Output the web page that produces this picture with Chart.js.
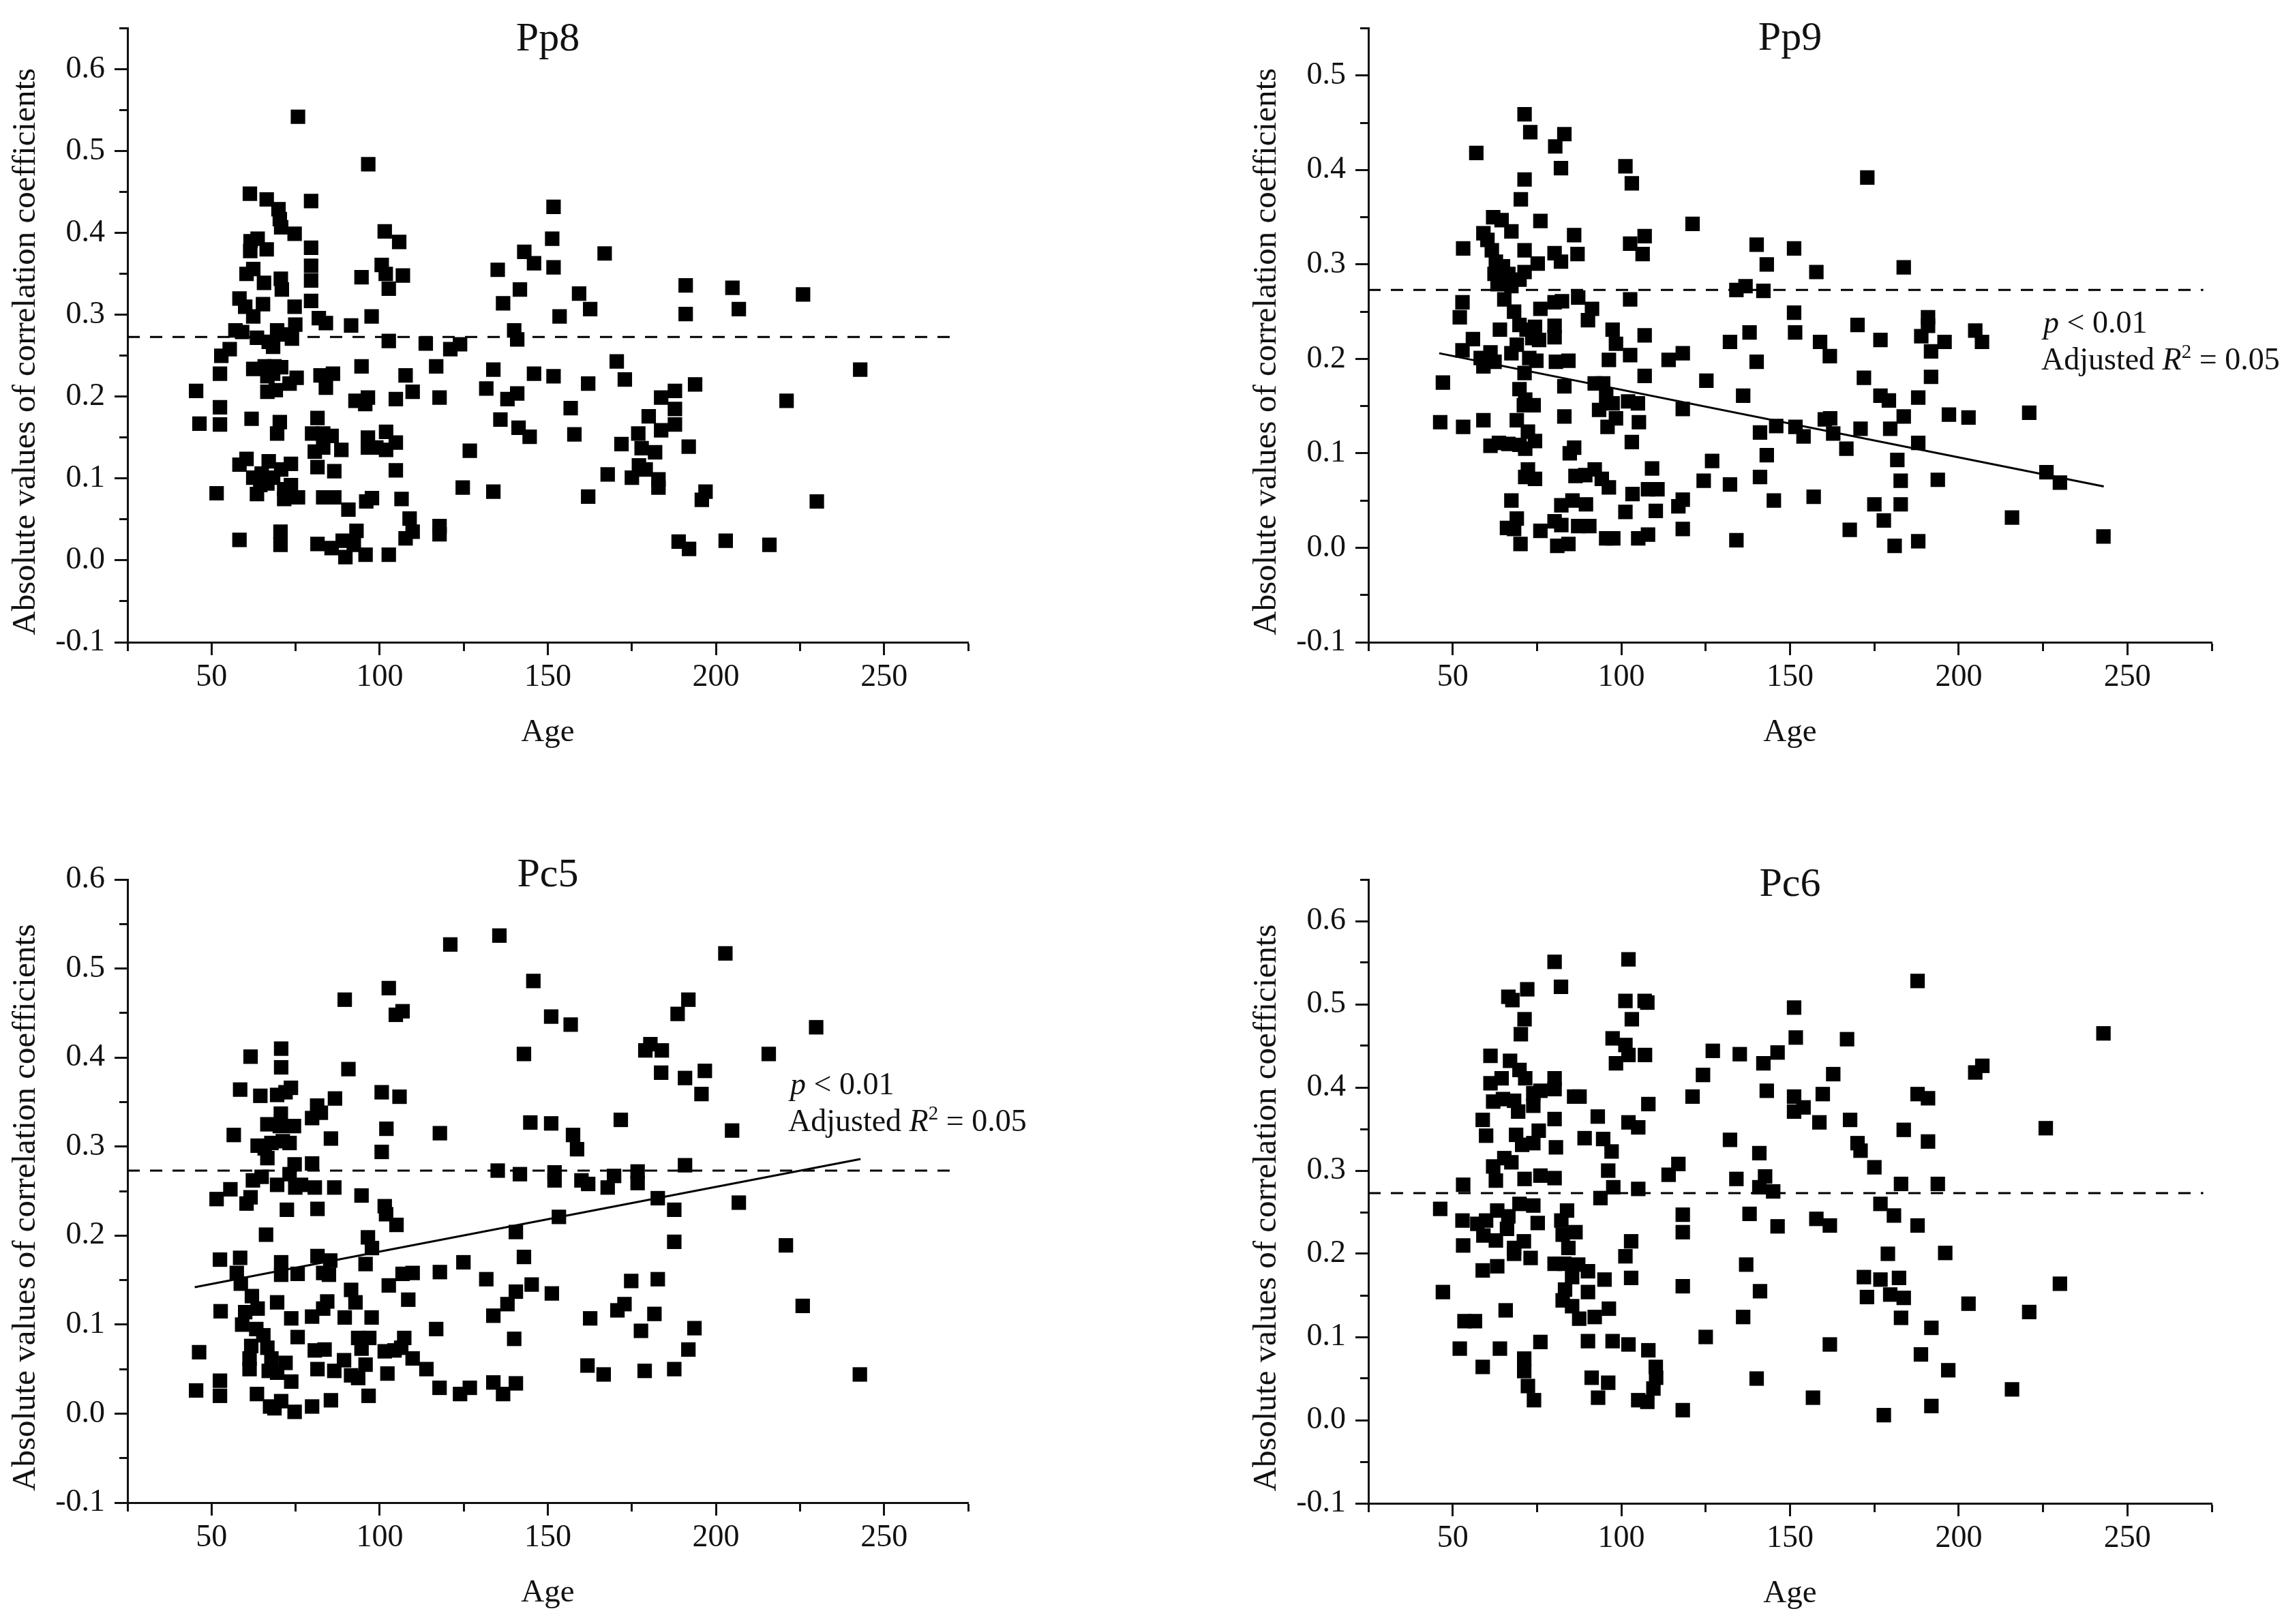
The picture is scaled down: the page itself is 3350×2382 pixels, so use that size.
<!DOCTYPE html>
<html>
<head>
<meta charset="utf-8">
<script src="https://cdn.jsdelivr.net/npm/chart.js@4.4.1/dist/chart.umd.min.js"></script>
<style>
  html, body { margin: 0; padding: 0; background: #fff; }
  #page { position: relative; width: 3350px; height: 2382px; background: #fff; overflow: hidden; }
  #page canvas { position: absolute; }
</style>
</head>
<body>
<div id="page">
  <canvas id="c-pp8" width="1675" height="1191" style="left:0;top:0"></canvas>
  <canvas id="c-pp9" width="1675" height="1191" style="left:1675px;top:0"></canvas>
  <canvas id="c-pc5" width="1675" height="1191" style="left:0;top:1191px"></canvas>
  <canvas id="c-pc6" width="1675" height="1191" style="left:1675px;top:1191px"></canvas>
</div>
<script>
// ---- data: [age, |r|] ----
const pp8Points = [
  [75.7,0.542],[96.6,0.484],[61.4,0.448],[66.4,0.441],[69.9,0.429],[70.3,0.417],[70.7,0.407],[74.7,0.399],
  [79.6,0.439],[61.6,0.390],[63.7,0.393],[61.5,0.378],[66.4,0.380],[79.6,0.382],[101.5,0.402],[105.8,0.389],
  [60.4,0.350],[62.4,0.356],[65.6,0.339],[70.6,0.344],[70.9,0.331],[79.6,0.360],[79.6,0.342],[79.6,0.317],
  [94.6,0.346],[100.6,0.361],[101.8,0.350],[102.7,0.332],[106.9,0.348],[58.3,0.320],[60.0,0.310],[62.4,0.298],
  [65.3,0.313],[74.7,0.310],[81.9,0.296],[84.0,0.290],[91.5,0.287],[97.6,0.298],[57.1,0.281],[59.1,0.279],
  [63.5,0.272],[67.0,0.267],[69.5,0.281],[71.2,0.276],[73.9,0.271],[74.9,0.288],[68.3,0.261],[102.7,0.268],
  [113.7,0.265],[121.0,0.258],[123.9,0.264],[52.9,0.250],[55.4,0.258],[52.5,0.228],[62.4,0.234],[65.8,0.237],
  [68.7,0.237],[70.7,0.236],[66.6,0.225],[68.3,0.228],[75.3,0.223],[73.2,0.216],[82.4,0.226],[86.1,0.228],
  [84.0,0.211],[66.6,0.206],[69.1,0.208],[45.4,0.207],[94.6,0.237],[107.7,0.226],[116.8,0.237],[109.8,0.206],
  [104.8,0.197],[92.8,0.195],[95.7,0.191],[96.5,0.199],[117.8,0.199],[133.8,0.233],[131.7,0.210],[138.0,0.197],
  [140.9,0.204],[135.9,0.172],[141.3,0.162],[144.6,0.151],[145.9,0.228],[151.7,0.225],[151.7,0.432],[151.3,0.393],
  [151.7,0.358],[153.5,0.298],[143.0,0.377],[145.9,0.363],[135.1,0.355],[141.7,0.331],[136.7,0.314],[140.0,0.281],
  [140.9,0.270],[52.5,0.187],[52.5,0.166],[46.4,0.167],[61.9,0.173],[70.3,0.169],[69.5,0.155],[81.5,0.174],
  [79.9,0.155],[83.2,0.155],[85.7,0.152],[80.7,0.133],[83.2,0.138],[88.6,0.135],[96.5,0.150],[96.5,0.138],
  [99.0,0.138],[101.9,0.157],[101.9,0.135],[104.8,0.144],[126.8,0.134],[58.3,0.117],[60.4,0.124],[62.4,0.101],
  [64.9,0.106],[67.0,0.121],[68.3,0.101],[70.7,0.111],[73.6,0.118],[66.6,0.094],[64.5,0.092],[81.5,0.114],
  [86.5,0.109],[104.8,0.110],[51.5,0.082],[63.5,0.081],[71.6,0.087],[71.6,0.075],[75.7,0.077],[73.6,0.092],
  [83.2,0.077],[86.5,0.077],[90.7,0.062],[96.0,0.072],[97.7,0.076],[106.5,0.075],[124.7,0.089],[133.8,0.084],
  [58.3,0.025],[70.5,0.035],[70.5,0.019],[81.5,0.020],[85.7,0.015],[89.0,0.024],[89.8,0.004],[92.3,0.019],
  [93.1,0.036],[95.8,0.007],[102.7,0.007],[108.9,0.051],[109.8,0.035],[107.7,0.027],[117.8,0.042],[117.8,0.032],
  [166.9,0.375],[159.3,0.326],[162.6,0.307],[191.0,0.336],[191.0,0.301],[204.9,0.333],[206.8,0.307],[225.9,0.325],
  [170.5,0.243],[172.9,0.221],[162.0,0.216],[156.8,0.186],[157.9,0.154],[242.9,0.233],[221.0,0.195],[193.8,0.215],
  [183.7,0.199],[187.8,0.207],[187.8,0.185],[180.0,0.176],[187.8,0.166],[183.7,0.159],[176.9,0.155],[171.9,0.142],
  [177.9,0.137],[181.9,0.132],[191.9,0.139],[177.1,0.116],[179.1,0.111],[175.0,0.101],[182.9,0.099],[182.9,0.089],
  [167.8,0.105],[162.0,0.078],[196.9,0.084],[195.8,0.074],[230.0,0.072],[188.9,0.023],[192.0,0.014],[202.9,0.024],
  [215.9,0.019]
];

const pp9Points = [
  [71.3,0.459],[73.0,0.440],[57.0,0.418],[80.4,0.425],[83.1,0.438],[82.1,0.402],[71.3,0.390],[70.2,0.369],
  [101.2,0.404],[103.1,0.386],[76.0,0.346],[62.0,0.350],[64.5,0.347],[59.1,0.333],[67.4,0.335],[86.0,0.331],
  [121.1,0.343],[53.1,0.317],[60.3,0.326],[61.6,0.315],[62.8,0.303],[64.9,0.298],[62.4,0.290],[66.5,0.290],
  [71.3,0.315],[71.3,0.292],[69.8,0.284],[75.2,0.301],[80.2,0.312],[82.1,0.303],[87.0,0.311],[102.6,0.322],
  [106.9,0.330],[106.3,0.311],[63.3,0.279],[67.4,0.277],[52.9,0.260],[52.1,0.244],[65.3,0.263],[68.2,0.250],
  [76.0,0.253],[80.2,0.260],[82.4,0.261],[87.2,0.265],[91.3,0.253],[90.1,0.241],[102.6,0.263],[134.1,0.273],
  [136.8,0.277],[142.1,0.272],[140.1,0.321],[143.1,0.300],[151.2,0.317],[151.2,0.249],[151.5,0.228],[56.0,0.221],
  [52.9,0.209],[64.0,0.231],[69.8,0.236],[71.9,0.231],[74.4,0.234],[75.6,0.220],[73.6,0.222],[80.2,0.235],
  [80.2,0.223],[97.4,0.231],[98.4,0.216],[106.9,0.225],[132.2,0.218],[138.0,0.228],[58.3,0.201],[59.1,0.192],
  [61.2,0.207],[62.4,0.197],[67.4,0.206],[69.0,0.215],[72.7,0.201],[74.8,0.198],[80.6,0.197],[84.3,0.198],
  [96.3,0.199],[102.6,0.204],[114.0,0.199],[118.2,0.206],[140.1,0.197],[47.1,0.175],[71.3,0.185],[106.9,0.182],
  [83.1,0.171],[69.8,0.168],[71.5,0.157],[74.0,0.151],[71.1,0.151],[92.1,0.174],[94.6,0.174],[95.5,0.161],
  [97.4,0.153],[102.0,0.155],[104.9,0.153],[125.2,0.177],[136.1,0.161],[118.2,0.147],[93.4,0.146],[46.3,0.133],
  [53.1,0.128],[59.1,0.135],[69.0,0.135],[72.3,0.123],[83.1,0.139],[98.4,0.137],[95.9,0.128],[105.2,0.133],
  [145.9,0.129],[151.6,0.128],[154.0,0.118],[141.1,0.122],[61.2,0.108],[63.7,0.111],[66.5,0.110],[69.8,0.109],
  [71.5,0.105],[74.4,0.113],[86.0,0.106],[84.7,0.100],[103.1,0.112],[143.1,0.098],[72.3,0.083],[71.5,0.075],
  [74.4,0.073],[86.4,0.076],[89.3,0.077],[92.1,0.083],[94.2,0.073],[96.3,0.064],[109.1,0.084],[107.9,0.062],
  [110.7,0.062],[126.9,0.092],[124.4,0.071],[132.2,0.067],[141.1,0.075],[103.3,0.057],[67.4,0.050],[82.2,0.045],
  [85.5,0.050],[89.5,0.046],[101.2,0.038],[110.2,0.039],[116.9,0.044],[118.2,0.051],[145.2,0.050],[69.0,0.031],
  [66.1,0.021],[68.2,0.020],[76.0,0.018],[80.2,0.028],[82.2,0.024],[87.2,0.023],[90.5,0.023],[95.5,0.010],
  [97.6,0.010],[105.0,0.010],[107.9,0.014],[118.2,0.020],[70.1,0.004],[81.0,0.002],[84.3,0.004],[134.1,0.008],
  [172.9,0.392],[157.8,0.292],[183.7,0.297],[170.0,0.236],[158.9,0.218],[161.8,0.203],[176.8,0.220],[190.9,0.244],
  [190.9,0.235],[188.9,0.224],[191.8,0.208],[195.8,0.218],[204.9,0.230],[206.9,0.218],[171.9,0.180],[191.8,0.181],
  [176.8,0.161],[179.3,0.156],[188.0,0.159],[160.3,0.136],[161.9,0.137],[197.1,0.141],[202.9,0.138],[220.9,0.143],
  [183.7,0.139],[162.8,0.121],[170.9,0.126],[179.7,0.126],[166.7,0.105],[188.0,0.111],[181.8,0.093],[182.8,0.071],
  [193.8,0.072],[226.0,0.080],[230.0,0.069],[157.0,0.054],[175.0,0.046],[182.8,0.046],[177.8,0.029],[167.7,0.019],
  [181.0,0.002],[188.0,0.007],[215.8,0.032],[242.9,0.012]
];

const pc5Points = [
  [121.0,0.527],[135.6,0.537],[145.7,0.486],[151.0,0.446],[102.7,0.478],[104.8,0.448],[106.8,0.452],[89.6,0.465],
  [70.7,0.410],[61.6,0.401],[70.7,0.389],[90.7,0.387],[142.9,0.404],[58.5,0.364],[64.5,0.357],[69.5,0.358],
  [72.0,0.361],[73.6,0.366],[86.7,0.354],[100.6,0.361],[105.9,0.356],[81.4,0.346],[79.9,0.332],[82.5,0.338],
  [70.6,0.337],[66.6,0.325],[70.3,0.323],[74.5,0.323],[56.6,0.313],[85.5,0.309],[102.0,0.320],[117.9,0.315],
  [144.8,0.327],[151.0,0.326],[63.7,0.301],[65.8,0.298],[67.8,0.304],[71.2,0.306],[73.2,0.304],[66.6,0.287],
  [100.6,0.294],[74.7,0.280],[79.9,0.281],[135.1,0.273],[141.7,0.269],[152.0,0.271],[152.0,0.262],[62.3,0.262],
  [64.9,0.266],[69.5,0.257],[73.2,0.269],[74.9,0.254],[80.7,0.254],[76.6,0.257],[51.5,0.241],[55.6,0.252],
  [60.4,0.236],[61.6,0.243],[72.4,0.229],[81.5,0.230],[86.5,0.254],[94.6,0.245],[101.5,0.233],[101.9,0.224],
  [105.0,0.212],[66.2,0.201],[140.5,0.204],[153.3,0.221],[96.5,0.198],[97.7,0.186],[95.8,0.168],[52.5,0.173],
  [58.5,0.175],[70.7,0.170],[81.5,0.177],[85.3,0.172],[83.2,0.158],[70.7,0.156],[75.6,0.157],[84.9,0.156],
  [142.9,0.176],[124.9,0.170],[117.9,0.159],[131.7,0.151],[145.2,0.145],[151.2,0.135],[57.5,0.158],[58.7,0.146],
  [102.7,0.144],[106.8,0.157],[109.8,0.158],[108.5,0.128],[140.5,0.137],[138.0,0.123],[133.8,0.110],[140.0,0.084],
  [62.0,0.132],[63.7,0.118],[60.0,0.114],[52.7,0.115],[69.5,0.125],[59.1,0.100],[63.3,0.095],[65.4,0.088],
  [61.8,0.076],[66.6,0.074],[61.3,0.062],[61.3,0.050],[67.8,0.062],[67.0,0.048],[69.5,0.046],[72.0,0.057],
  [73.7,0.107],[75.6,0.086],[73.7,0.036],[79.9,0.109],[83.2,0.118],[84.4,0.126],[89.6,0.108],[91.5,0.139],
  [92.8,0.125],[97.6,0.108],[80.7,0.071],[83.6,0.072],[81.5,0.050],[86.5,0.048],[89.4,0.060],[91.5,0.043],
  [93.6,0.040],[93.6,0.085],[94.6,0.073],[96.9,0.085],[95.8,0.055],[101.5,0.070],[102.3,0.045],[104.4,0.071],
  [107.3,0.085],[106.4,0.074],[109.8,0.062],[113.9,0.050],[116.8,0.095],[117.8,0.029],[123.9,0.022],[126.8,0.029],
  [133.8,0.035],[136.7,0.022],[140.5,0.034],[46.3,0.069],[45.4,0.026],[52.5,0.037],[52.5,0.020],[63.5,0.022],
  [67.4,0.008],[68.7,0.006],[70.7,0.014],[74.7,0.002],[79.9,0.008],[85.5,0.015],[96.7,0.020],
  [202.8,0.517],[191.8,0.465],[188.6,0.449],[156.8,0.437],[229.8,0.434],[180.5,0.415],[183.9,0.408],[179.0,0.408],
  [215.7,0.404],[183.7,0.383],[190.8,0.377],[196.7,0.385],[195.7,0.359],[171.7,0.330],[157.5,0.313],[158.7,0.297],
  [204.8,0.318],[190.8,0.279],[160.0,0.262],[162.0,0.258],[167.8,0.254],[169.7,0.267],[176.7,0.272],[176.7,0.259],
  [182.7,0.242],[187.6,0.229],[206.8,0.237],[187.6,0.193],[220.8,0.189],[174.8,0.149],[182.7,0.151],[172.8,0.123],
  [170.7,0.116],[162.6,0.107],[181.7,0.112],[177.7,0.093],[193.6,0.096],[191.8,0.072],[225.8,0.121],[161.8,0.054],
  [166.6,0.044],[178.8,0.048],[187.6,0.050],[242.8,0.044]
];

const pc6Points = [
  [80.2,0.551],[102.1,0.554],[72.1,0.518],[82.1,0.521],[66.5,0.509],[67.7,0.505],[71.3,0.482],[70.2,0.464],
  [101.2,0.504],[106.9,0.504],[107.7,0.502],[103.1,0.482],[97.4,0.459],[101.2,0.451],[102.1,0.439],[98.4,0.429],
  [107.0,0.439],[61.2,0.438],[67.0,0.432],[69.8,0.421],[61.2,0.405],[64.5,0.411],[71.5,0.411],[73.9,0.393],
  [80.2,0.411],[80.2,0.398],[86.0,0.389],[87.6,0.389],[76.0,0.396],[62.0,0.383],[64.9,0.386],[68.2,0.384],
  [69.4,0.371],[73.9,0.378],[108.0,0.380],[127.1,0.444],[124.2,0.415],[121.1,0.389],[135.1,0.440],[142.1,0.429],
  [146.3,0.442],[151.2,0.496],[151.7,0.460],[143.1,0.396],[151.2,0.389],[151.2,0.371],[154.0,0.376],[58.9,0.361],
  [59.9,0.342],[68.8,0.343],[70.6,0.331],[73.9,0.333],[75.5,0.348],[80.2,0.362],[80.6,0.328],[93.0,0.365],
  [89.1,0.339],[94.6,0.338],[97.1,0.323],[102.1,0.358],[105.0,0.352],[132.2,0.337],[140.9,0.321],[62.0,0.305],
  [62.8,0.288],[65.3,0.315],[67.4,0.310],[71.3,0.290],[76.0,0.294],[80.2,0.291],[96.1,0.300],[114.0,0.295],
  [116.9,0.308],[134.1,0.290],[142.6,0.293],[140.9,0.280],[145.0,0.275],[53.1,0.283],[97.6,0.280],[105.0,0.278],
  [93.8,0.267],[46.3,0.254],[52.9,0.240],[57.3,0.236],[59.9,0.240],[63.2,0.252],[66.5,0.245],[69.8,0.260],
  [73.9,0.258],[75.2,0.237],[59.1,0.222],[62.8,0.216],[66.1,0.230],[68.2,0.207],[71.1,0.215],[73.1,0.195],
  [83.9,0.252],[82.2,0.240],[82.6,0.223],[86.4,0.226],[84.3,0.207],[118.2,0.247],[118.2,0.226],[138.0,0.248],
  [146.3,0.233],[53.1,0.210],[102.9,0.215],[101.2,0.197],[58.9,0.180],[63.2,0.185],[68.2,0.200],[80.2,0.188],
  [83.1,0.188],[87.2,0.187],[90.1,0.179],[85.4,0.172],[83.3,0.157],[90.1,0.154],[95.0,0.169],[102.9,0.171],
  [137.0,0.187],[47.1,0.154],[82.6,0.144],[85.4,0.137],[87.5,0.122],[92.1,0.124],[96.3,0.134],[118.2,0.161],
  [141.1,0.155],[136.1,0.124],[53.5,0.119],[56.6,0.119],[65.7,0.132],[52.1,0.086],[64.0,0.086],[76.0,0.094],
  [90.1,0.095],[97.4,0.095],[102.1,0.091],[108.0,0.084],[125.0,0.100],[58.9,0.064],[71.2,0.074],[71.2,0.059],
  [72.3,0.041],[74.1,0.024],[91.2,0.051],[96.1,0.045],[93.1,0.027],[110.2,0.064],[110.3,0.051],[109.5,0.038],
  [105.0,0.024],[107.7,0.022],[118.2,0.012],[140.1,0.050],
  [187.8,0.528],[166.9,0.458],[242.9,0.465],[162.8,0.416],[204.9,0.418],[207.0,0.426],[159.7,0.392],[187.8,0.392],
  [190.9,0.387],[158.7,0.358],[167.8,0.361],[183.7,0.349],[190.9,0.335],[225.8,0.351],[170.0,0.333],[170.9,0.324],
  [175.0,0.304],[182.9,0.284],[193.8,0.284],[176.8,0.260],[180.8,0.246],[157.8,0.242],[161.8,0.234],[187.8,0.234],
  [179.0,0.200],[196.0,0.201],[171.9,0.172],[176.8,0.169],[182.3,0.171],[172.8,0.148],[179.7,0.151],[183.7,0.147],
  [230.0,0.164],[202.9,0.140],[220.9,0.130],[182.9,0.123],[191.9,0.111],[161.8,0.091],[188.8,0.079],[196.9,0.060],
  [215.8,0.037],[156.8,0.027],[191.9,0.017],[177.8,0.006]
];

// fitted lines (end points) and the dashed significance threshold
const pp9FitAge = [46, 243];
const pp9FitVal = [0.206, 0.065];
const pc5FitAge = [45, 243];
const pc5FitVal = [0.142, 0.286];
const THRESHOLD = 0.273;
const thresholdAge = [25, 272.5];

const X_MIN = 25, X_MAX = 275;
const Y_MIN = -0.1;
const Y_TITLE = 'Absolute values of correlation coefficients';
const X_TITLE = 'Age';

const FONT = '"Liberation Serif", "Times New Roman", serif';
const INK = '#111';

// per-panel layout (canvas pixels)
const PANELS = [
  { id: 'c-pp8', title: 'Pp8', points: pp8Points, yMax: 0.65, fitAge: null, fitVal: null,
    box: { left: 187, right: 255, top: 27, bottom: 249 }, titleDy: 32, note: null },
  { id: 'c-pp9', title: 'Pp9', points: pp9Points, yMax: 0.55, fitAge: pp9FitAge, fitVal: pp9FitVal,
    box: { left: 332, right: 106, top: 28, bottom: 249 }, titleDy: 31, note: { x: 1322, y: 488 } },
  { id: 'c-pc5', title: 'Pc5', points: pc5Points, yMax: 0.6, fitAge: pc5FitAge, fitVal: pc5FitVal,
    box: { left: 187, right: 255, top: 99, bottom: 178 }, titleDy: 10, note: { x: 1159, y: 414 } },
  { id: 'c-pc6', title: 'Pc6', points: pc6Points, yMax: 0.65, fitAge: null, fitVal: null,
    box: { left: 332, right: 106, top: 99, bottom: 177 }, titleDy: 24, note: null },
];

Chart.defaults.font.family = FONT;
Chart.defaults.color = INK;

function isMajorY(v) { return Math.abs(v * 10 - Math.round(v * 10)) < 1e-6; }
function isMajorX(v) { return Math.round(v) % 50 === 0; }

// text that sits inside the panel: title, axis titles, fit note
const panelText = {
  id: 'panelText',
  afterDraw(chart, args, opts) {
    const { ctx, chartArea: a } = chart;
    const cx = (a.left + a.right) / 2;
    ctx.save();
    ctx.fillStyle = INK;
    ctx.textAlign = 'center';
    ctx.textBaseline = 'alphabetic';
    ctx.font = `60px ${FONT}`;
    ctx.fillText(opts.title, cx, a.top + opts.titleDy);

    ctx.font = `47px ${FONT}`;
    ctx.fillText(X_TITLE, cx, a.bottom + 145);

    ctx.save();
    ctx.translate(a.left - 149, (a.top + a.bottom) / 2 + 24);
    ctx.rotate(-Math.PI / 2);
    ctx.textBaseline = 'middle';
    ctx.font = `49px ${FONT}`;
    ctx.fillText(Y_TITLE, 0, 0);
    ctx.restore();

    if (opts.note) {
      const size = 46;
      ctx.textAlign = 'left';
      let x = opts.note.x;
      let y = opts.note.y;
      ctx.font = `italic ${size}px ${FONT}`;
      ctx.fillText('p', x, y);
      x += ctx.measureText('p').width;
      ctx.font = `${size}px ${FONT}`;
      ctx.fillText(' < 0.01', x, y);

      x = opts.note.x - 3;
      y += 54;
      ctx.fillText('Adjusted ', x, y);
      x += ctx.measureText('Adjusted ').width;
      ctx.font = `italic ${size}px ${FONT}`;
      ctx.fillText('R', x, y);
      x += ctx.measureText('R').width;
      ctx.font = `${Math.round(size * 0.62)}px ${FONT}`;
      ctx.fillText('2', x, y - size * 0.38);
      x += ctx.measureText('2').width;
      ctx.font = `${size}px ${FONT}`;
      ctx.fillText(' = 0.05', x, y);
    }
    ctx.restore();
  }
};

function buildPanel(p) {
  const datasets = [
    {
      label: 'ages',
      data: p.points.map(([x, y]) => ({ x, y })),
      pointStyle: 'rect',
      pointRadius: 15,
      pointHoverRadius: 15,
      pointBackgroundColor: '#000',
      pointBorderWidth: 0,
      showLine: false,
    },
    {
      label: 'threshold',
      data: thresholdAge.map(x => ({ x, y: THRESHOLD })),
      showLine: true,
      borderColor: '#000',
      borderWidth: 3,
      borderDash: [18, 15],
      pointRadius: 0,
    },
  ];
  if (p.fitAge) {
    datasets.push({
      label: 'fit',
      data: p.fitAge.map((x, i) => ({ x, y: p.fitVal[i] })),
      showLine: true,
      borderColor: '#000',
      borderWidth: 3,
      pointRadius: 0,
    });
  }

  return new Chart(document.getElementById(p.id), {
    type: 'scatter',
    data: { datasets },
    options: {
      responsive: false,
      animation: false,
      devicePixelRatio: 1,
      events: [],
      layout: { padding: { left: 0, right: p.box.right, top: p.box.top, bottom: 0 } },
      plugins: {
        legend: { display: false },
        tooltip: { enabled: false },
        panelText: { title: p.title, titleDy: p.titleDy, note: p.note },
      },
      scales: {
        x: {
          type: 'linear', min: X_MIN, max: X_MAX,
          afterFit: s => { s.height = p.box.bottom; },
          border: { display: true, color: INK, width: 3 },
          grid: {
            drawOnChartArea: false, drawTicks: true, tickLength: 19,
            tickWidth: 3, tickColor: INK,
            tickBorderDash: ctx => (ctx.tick && isMajorX(ctx.tick.value)) ? [] : [11, 1000],
          },
          ticks: {
            stepSize: 25, autoSkip: false, maxRotation: 0, padding: 5,
            font: { size: 46 }, color: INK,
            callback: v => isMajorX(v) && v !== X_MIN && v !== X_MAX ? String(v) : '',
          },
        },
        y: {
          type: 'linear', min: Y_MIN, max: p.yMax,
          afterFit: s => { s.width = p.box.left; },
          border: { display: true, color: INK, width: 3 },
          grid: {
            drawOnChartArea: false, drawTicks: true, tickLength: 19,
            tickWidth: 3, tickColor: INK,
            tickBorderDash: ctx => (ctx.tick && isMajorY(ctx.tick.value)) ? [] : [0, 7, 12, 1000],
          },
          ticks: {
            stepSize: 0.05, autoSkip: false, padding: 14,
            font: { size: 46 }, color: INK,
            callback: v => isMajorY(v) ? (Math.abs(v) < 1e-9 ? 0 : v).toFixed(1) : '',
          },
        },
      },
    },
    plugins: [panelText],
  });
}

PANELS.forEach(buildPanel);
</script>
</body>
</html>
